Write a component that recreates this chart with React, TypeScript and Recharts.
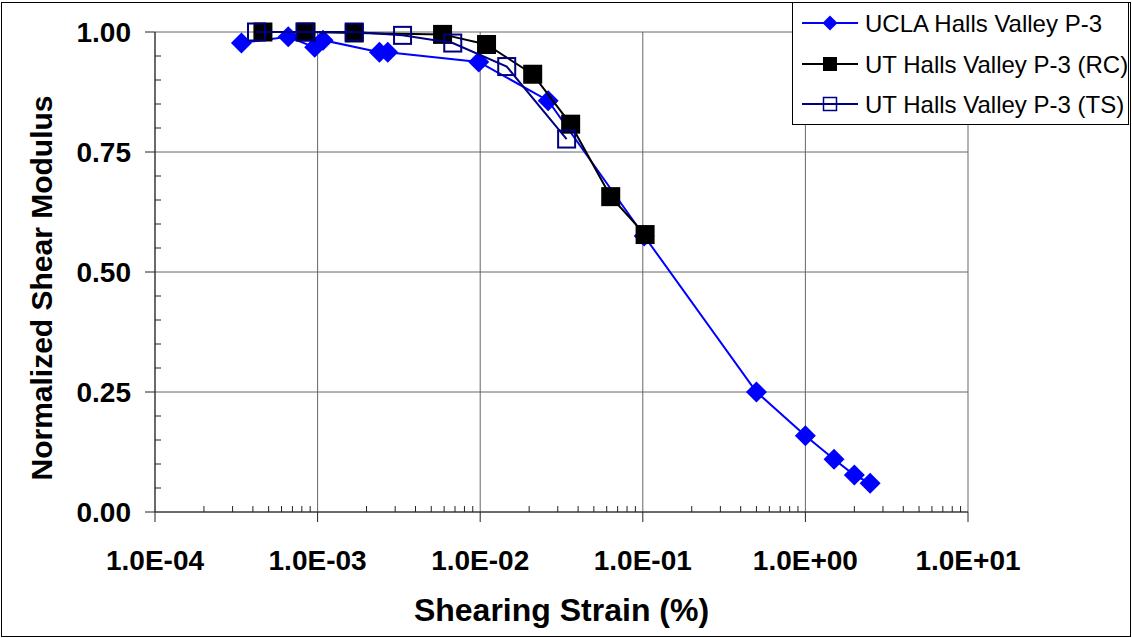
import { ScatterChart, Scatter, XAxis, YAxis, CartesianGrid, Legend, Label } from 'recharts';

const FONT = '"Liberation Sans", Arial, sans-serif';
const AXIS = '#222222';

// series names
const SERIES_NAMES = ['UCLA Halls Valley P-3', 'UT Halls Valley P-3 (RC)', 'UT Halls Valley P-3 (TS)'];

// UCLA (blue diamonds)
const UCLA_STRAIN = [3.4e-4, 6.6e-4, 9.6e-4, 1.08e-3, 2.4e-3, 2.7e-3, 9.8e-3, 0.0262, 0.102, 0.5, 1.0, 1.5, 2.0, 2.5];
const UCLA_MOD = [0.977, 0.99, 0.968, 0.983, 0.958, 0.958, 0.9375, 0.857, 0.575, 0.25, 0.159, 0.11, 0.077, 0.06];

// UT resonant column (black filled squares)
const RC_STRAIN = [4.61e-4, 8.49e-4, 1.68e-3, 5.87e-3, 0.01094, 0.02103, 0.036, 0.0635, 0.1033];
const RC_MOD = [1.0, 1.0, 0.998, 0.995, 0.974, 0.912, 0.808, 0.657, 0.578];

// UT torsional shear (navy open squares)
const TS_STRAIN = [4.21e-4, 8.36e-4, 1.68e-3, 3.33e-3, 6.78e-3, 0.01456, 0.034];
const TS_MOD = [1.0, 1.0, 1.0, 0.993, 0.977, 0.928, 0.777];

// axes
const X_MAJOR = [1e-4, 1e-3, 1e-2, 1e-1, 1, 10];
const X_LABELS = ['1.0E-04', '1.0E-03', '1.0E-02', '1.0E-01', '1.0E+00', '1.0E+01'];
const X_MINOR_MULT = [2, 3, 4, 5, 6, 7, 8, 9];
const X_TICKS = [
  ...X_MAJOR,
  ...X_MAJOR.slice(0, -1).flatMap((d) => X_MINOR_MULT.map((m) => m * d)),
];
const Y_MAJOR = [0, 0.25, 0.5, 0.75, 1];
const Y_LABELS = ['0.00', '0.25', '0.50', '0.75', '1.00'];
const Y_TICKS = Array.from({ length: 21 }, (_, i) => i / 20);

const ucla = UCLA_STRAIN.map((s, i) => ({ strain: s, g: UCLA_MOD[i] }));
const rc = RC_STRAIN.map((s, i) => ({ strain: s, g: RC_MOD[i] }));
const ts = TS_STRAIN.map((s, i) => ({ strain: s, g: TS_MOD[i] }));

const Diamond = (p: any) => {
  const { cx, cy } = p;
  const r = 10.5;
  return <polygon points={`${cx},${cy - r} ${cx + r},${cy} ${cx},${cy + r} ${cx - r},${cy}`} fill="#0000FF" />;
};

const FilledSquare = (p: any) => {
  const { cx, cy } = p;
  return <rect x={cx - 9.5} y={cy - 9.5} width={19} height={19} fill="#000000" />;
};

const OpenSquare = (p: any) => {
  const { cx, cy } = p;
  return <rect x={cx - 8.5} y={cy - 8.5} width={17} height={17} fill="none" stroke="#000080" strokeWidth={2} />;
};

const XTick = (p: any) => {
  const { x, y, payload } = p;
  const i = X_MAJOR.indexOf(payload.value);
  if (i < 0) return <line x1={x} x2={x} y1={y} y2={y - 6} stroke={AXIS} />;
  return (
    <g>
      <line x1={x} x2={x} y1={y} y2={y + 10} stroke={AXIS} />
      <text x={x} y={y + 58} textAnchor="middle" fontSize={28} fontWeight="bold" fontFamily={FONT} fill="#000">
        {X_LABELS[i]}
      </text>
    </g>
  );
};

const YTick = (p: any) => {
  const { x, y, payload } = p;
  const i = Y_MAJOR.findIndex((v) => Math.abs(v - payload.value) < 1e-9);
  if (i < 0) return <line x1={x} x2={x + 6} y1={y} y2={y} stroke={AXIS} />;
  return (
    <g>
      <line x1={x - 10} x2={x} y1={y} y2={y} stroke={AXIS} />
      <text x={x - 24} y={y + 10} textAnchor="end" fontSize={28} fontWeight="bold" fontFamily={FONT} fill="#000">
        {Y_LABELS[i]}
      </text>
    </g>
  );
};

const LegendBox = () => {
  const rows = [21, 62, 102];
  return (
    <svg width={338} height={125} style={{ display: 'block' }}>
      <rect x={0.5} y={0.5} width={336} height={122} fill="#fff" stroke="#000" />
      {SERIES_NAMES.map((name, i) => {
        const cy = rows[i];
        const color = i === 0 ? '#0000FF' : i === 1 ? '#000000' : '#000080';
        return (
          <g key={name}>
            <line x1={10} x2={66} y1={cy} y2={cy} stroke={color} strokeWidth={2} />
            {i === 0 && <polygon points={`38,${cy - 7.5} 45.5,${cy} 38,${cy + 7.5} 30.5,${cy}`} fill="#0000FF" />}
            {i === 1 && <rect x={31} y={cy - 7} width={14} height={14} fill="#000" />}
            {i === 2 && <rect x={31.5} y={cy - 6.5} width={13} height={13} fill="none" stroke="#000080" strokeWidth={1.5} />}
            <text x={73} y={cy + 9} fontSize={24} fontFamily={FONT} fill="#000">
              {name}
            </text>
          </g>
        );
      })}
    </svg>
  );
};

export default function App() {
  return (
    <div style={{ position: 'absolute', left: 0, top: 0, width: 1132, height: 638, background: '#fff', fontFamily: FONT }}>
      <ScatterChart width={1132} height={638} margin={{ top: 32, right: 164, bottom: 0, left: 0 }}>
        <CartesianGrid stroke="#666666" horizontalValues={Y_MAJOR} verticalValues={X_MAJOR} />
        <XAxis
          type="number"
          dataKey="strain"
          scale="log"
          domain={[1e-4, 10]}
          ticks={X_TICKS}
          interval={0}
          tick={XTick}
          tickLine={false}
          tickSize={0}
          tickMargin={0}
          height={126}
          axisLine={{ stroke: AXIS }}
        >
          <Label
            content={(props: any) => {
              const vb = props.viewBox;
              return (
                <text x={vb.x + vb.width / 2} y={621} textAnchor="middle" fontSize={32} fontWeight="bold" fontFamily={FONT} fill="#000">
                  Shearing Strain (%)
                </text>
              );
            }}
          />
        </XAxis>
        <YAxis
          type="number"
          dataKey="g"
          domain={[0, 1]}
          ticks={Y_TICKS}
          interval={0}
          tick={YTick}
          tickLine={false}
          tickSize={0}
          tickMargin={0}
          width={155}
          axisLine={{ stroke: AXIS }}
        >
          <Label
            content={() => (
              <text x={52} y={288} transform="rotate(-90, 52, 288)" textAnchor="middle" fontSize={30} fontWeight="bold" fontFamily={FONT} fill="#000">
                Normalized Shear Modulus
              </text>
            )}
          />
        </YAxis>
        <Scatter name={SERIES_NAMES[0]} data={ucla} line={{ stroke: '#0000FF', strokeWidth: 2 }} shape={Diamond} isAnimationActive={false} />
        <Scatter name={SERIES_NAMES[1]} data={rc} line={{ stroke: '#000000', strokeWidth: 2 }} shape={FilledSquare} isAnimationActive={false} />
        <Scatter name={SERIES_NAMES[2]} data={ts} line={{ stroke: '#000080', strokeWidth: 2 }} shape={OpenSquare} isAnimationActive={false} />
        <Legend
          layout="vertical"
          align="center"
          verticalAlign="middle"
          content={() => <LegendBox />}
          wrapperStyle={{ left: 792, top: 2, width: 338, height: 125 }}
        />
      </ScatterChart>
      <div
        style={{
          position: 'absolute',
          left: 1,
          top: 2,
          width: 1130,
          height: 635,
          border: '1px solid #000',
          boxSizing: 'border-box',
          pointerEvents: 'none',
        }}
      />
    </div>
  );
}
